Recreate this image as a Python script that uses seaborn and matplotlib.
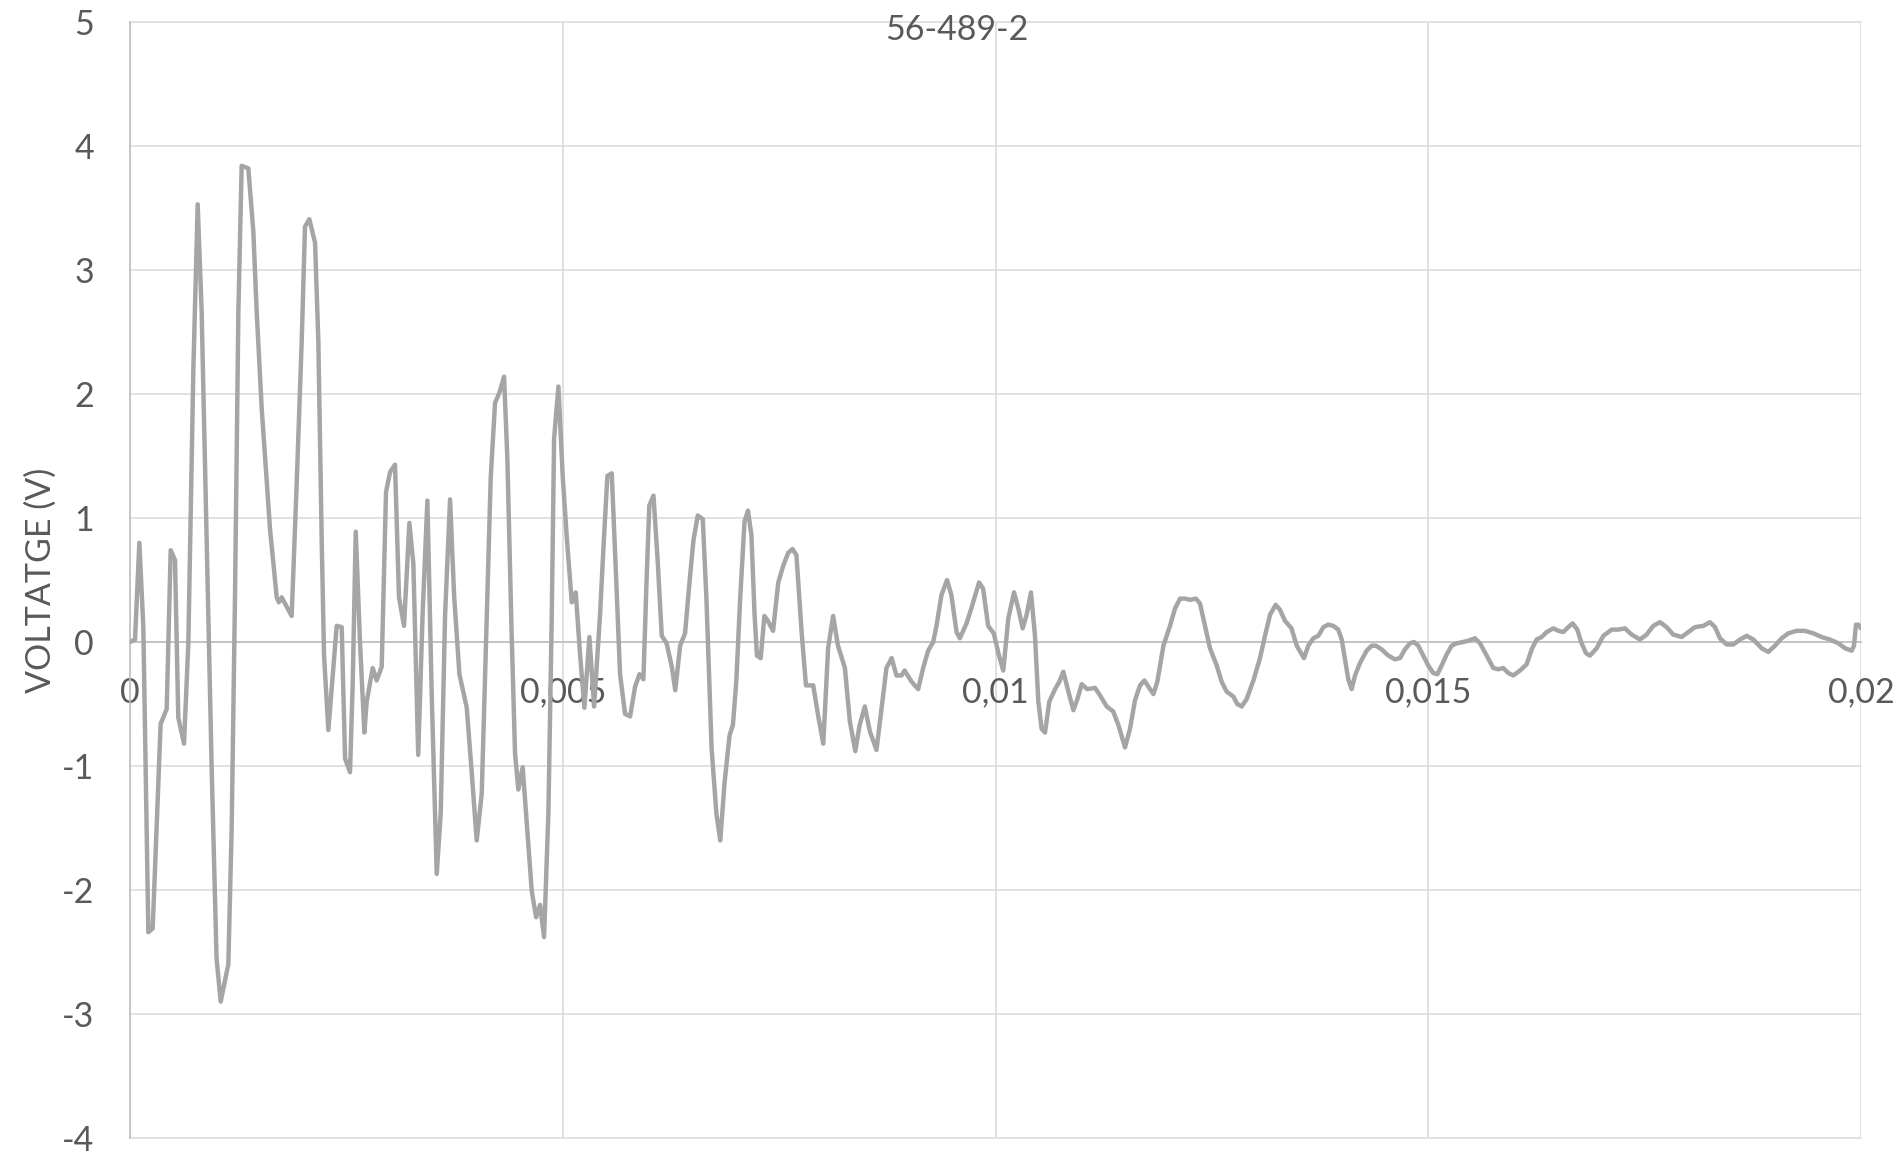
import matplotlib
matplotlib.use("Agg")
import matplotlib.pyplot as plt
import matplotlib.ticker as mticker
import seaborn as sns
import pandas as pd

# ---- data (time in milliseconds, voltage in volts) ----
time_ms = [
    0.0, 0.058, 0.108, 0.154, 0.212, 0.262, 0.354, 0.424, 0.47, 0.52,
    0.558, 0.624, 0.674, 0.732, 0.782, 0.828, 0.886, 0.944, 1.0, 1.048,
    1.136, 1.175, 1.213, 1.252, 1.29, 1.367, 1.425, 1.464, 1.522, 1.618,
    1.695, 1.72, 1.753, 1.868, 1.926, 1.984, 2.022, 2.072, 2.138, 2.176,
    2.215, 2.242, 2.292, 2.35, 2.388, 2.446, 2.485, 2.542, 2.573, 2.608,
    2.658, 2.708, 2.735, 2.804, 2.85, 2.908, 2.958, 3.005, 3.062, 3.108,
    3.166, 3.228, 3.274, 3.33,
    3.38, 3.436, 3.486, 3.544, 3.59, 3.64, 3.698, 3.745, 3.806, 3.891,
    3.949, 4.006, 4.064, 4.122, 4.168, 4.218, 4.268, 4.322, 4.36, 4.41,
    4.449, 4.487, 4.537, 4.592, 4.642, 4.692, 4.738, 4.784, 4.834, 4.873,
    4.90, 4.95, 5.0, 5.046, 5.104, 5.15, 5.2, 5.25, 5.308, 5.362,
    5.43, 5.477, 5.516, 5.566, 5.616, 5.662, 5.72, 5.778, 5.836, 5.886,
    5.932, 5.97, 6.0, 6.048, 6.094, 6.144, 6.2, 6.26, 6.3, 6.356,
    6.413, 6.463, 6.51, 6.56, 6.618,
    6.66, 6.72, 6.776, 6.82, 6.87, 6.928, 6.966, 7.005, 7.05, 7.10,
    7.14, 7.18, 7.217, 7.244, 7.287, 7.33, 7.37, 7.43, 7.49, 7.55,
    7.605, 7.655, 7.70, 7.76, 7.81, 7.894, 7.95, 8.01, 8.066, 8.124,
    8.18, 8.26, 8.317, 8.38, 8.43, 8.49, 8.548, 8.625, 8.683, 8.74,
    8.80, 8.856, 8.914, 8.95, 9.03, 9.107, 9.164, 9.222, 9.28, 9.318,
    9.376, 9.44, 9.49, 9.55, 9.588, 9.665, 9.72, 9.81, 9.857, 9.915,
    9.98, 10.04,
    10.09, 10.148, 10.214, 10.264, 10.314, 10.36, 10.41, 10.456, 10.495, 10.533,
    10.572, 10.622, 10.688, 10.738, 10.784, 10.842, 10.9, 10.946, 10.996, 11.06,
    11.15, 11.207, 11.285, 11.36, 11.42, 11.496, 11.554, 11.612, 11.67, 11.72,
    11.766, 11.824, 11.87, 11.94, 12.016, 12.074, 12.132, 12.19, 12.247, 12.317,
    12.363, 12.42, 12.478, 12.556, 12.613, 12.67, 12.748, 12.794, 12.845, 12.902,
    12.98, 13.056, 13.114, 13.172, 13.237, 13.287, 13.345, 13.42, 13.48,
    13.564, 13.614, 13.672, 13.73, 13.788, 13.845, 13.903, 13.96, 14.0, 14.038,
    14.076, 14.115, 14.154, 14.211, 14.288, 14.346, 14.396, 14.462, 14.54, 14.615,
    14.673, 14.731, 14.789, 14.835, 14.885, 14.943, 15.0, 15.058, 15.105, 15.155,
    15.213, 15.27, 15.33, 15.405, 15.463, 15.54, 15.598, 15.675, 15.752, 15.81,
    15.867, 15.925, 15.983, 16.06, 16.137, 16.195, 16.252, 16.31, 16.368, 16.445,
    16.503, 16.56, 16.618, 16.668, 16.722, 16.772, 16.822, 16.868,
    16.946, 17.023, 17.12, 17.196, 17.273, 17.35, 17.446, 17.523, 17.6, 17.677,
    17.754, 17.831, 17.928, 18.005, 18.082, 18.178, 18.255, 18.313, 18.37, 18.448,
    18.525, 18.602, 18.679, 18.756, 18.852, 18.929, 19.006, 19.083, 19.16, 19.256,
    19.353, 19.449, 19.545, 19.641, 19.738, 19.815, 19.892, 19.919, 19.942, 19.969,
    20.0,
]

voltage = [
    0.0, 0.02, 0.80, 0.12, -2.34, -2.31, -0.66, -0.54, 0.74, 0.66,
    -0.61, -0.82, -0.01, 2.2, 3.53, 2.66, 0.82, -1.03, -2.55, -2.90,
    -2.60, -1.49, 0.36, 2.66, 3.84, 3.82, 3.31, 2.66, 1.88, 0.91,
    0.36, 0.32, 0.36, 0.21, 1.28, 2.43, 3.35, 3.41, 3.22, 2.43,
    0.82, -0.11, -0.71, -0.20, 0.13, 0.12, -0.94, -1.05, -0.34, 0.89,
    -0.01, -0.73, -0.48, -0.21, -0.31, -0.20, 1.21, 1.37, 1.43, 0.36,
    0.13, 0.96, 0.63, -0.91,
    0.21, 1.14, -0.42, -1.87, -1.38, 0.21, 1.15, 0.37, -0.26, -0.53,
    -1.06, -1.60, -1.22, 0.21, 1.33, 1.93, 2.01, 2.14, 1.48, 0.05,
    -0.90, -1.19, -1.01, -1.54, -2.01, -2.22, -2.12, -2.38, -1.38, 0.21,
    1.64, 2.06, 1.33, 0.85, 0.32, 0.40, -0.10, -0.53, 0.04, -0.52,
    0.21, 0.85, 1.34, 1.36, 0.53, -0.26, -0.58, -0.60, -0.36, -0.26,
    -0.30, 0.53, 1.10, 1.18, 0.69, 0.05, -0.01, -0.20, -0.39, -0.03,
    0.07, 0.47, 0.82, 1.02, 0.99,
    0.35, -0.86, -1.39, -1.60, -1.13, -0.75, -0.67, -0.32, 0.35, 0.97,
    1.06, 0.86, 0.21, -0.11, -0.13, 0.21, 0.17, 0.09, 0.48, 0.62,
    0.72, 0.75, 0.70, 0.08, -0.35, -0.35, -0.59, -0.82, -0.05, 0.21,
    -0.03, -0.21, -0.64, -0.88, -0.67, -0.52, -0.72, -0.87, -0.54, -0.21,
    -0.13, -0.27, -0.27, -0.23, -0.32, -0.38, -0.21, -0.07, 0.0, 0.13,
    0.38, 0.50, 0.38, 0.08, 0.03, 0.15, 0.27, 0.48, 0.43, 0.13,
    0.07, -0.11,
    -0.23, 0.19, 0.40, 0.27, 0.11, 0.22, 0.40, 0.05, -0.48, -0.70,
    -0.73, -0.48, -0.38, -0.32, -0.24, -0.40, -0.55, -0.46, -0.34, -0.38,
    -0.37, -0.43, -0.52, -0.56, -0.67, -0.85, -0.70, -0.47, -0.35, -0.31,
    -0.36, -0.42, -0.32, -0.03, 0.13, 0.27, 0.35, 0.35, 0.34, 0.35,
    0.31, 0.13, -0.05, -0.19, -0.32, -0.40, -0.44, -0.50, -0.52, -0.46,
    -0.31, -0.13, 0.05, 0.22, 0.30, 0.26, 0.17, 0.11, -0.03,
    -0.13, -0.03, 0.03, 0.05, 0.12, 0.14, 0.13, 0.10, 0.02, -0.14,
    -0.30, -0.38, -0.27, -0.17, -0.07, -0.03, -0.03, -0.06, -0.11, -0.14,
    -0.13, -0.06, -0.01, 0.0, -0.03, -0.11, -0.19, -0.25, -0.26, -0.19,
    -0.10, -0.03, -0.01, 0.0, 0.01, 0.03, -0.01, -0.11, -0.21, -0.22,
    -0.21, -0.25, -0.27, -0.23, -0.18, -0.06, 0.02, 0.04, 0.08, 0.11,
    0.09, 0.08, 0.12, 0.15, 0.10, -0.01, -0.09, -0.11,
    -0.05, 0.05, 0.10, 0.10, 0.11, 0.06, 0.02, 0.06, 0.13, 0.16,
    0.12, 0.06, 0.04, 0.08, 0.12, 0.13, 0.16, 0.12, 0.03, -0.02,
    -0.02, 0.02, 0.05, 0.02, -0.05, -0.08, -0.03, 0.03, 0.07, 0.09,
    0.09, 0.07, 0.04, 0.02, -0.01, -0.05, -0.07, -0.03, 0.14, 0.14,
    0.11,
]

title = "56-489-2"
y_label = "VOLTATGE (V)"
x_ticks = [0, 0.005, 0.01, 0.015, 0.02]
y_ticks = [-4, -3, -2, -1, 0, 1, 2, 3, 4, 5]

df = pd.DataFrame({"t": [v / 1000.0 for v in time_ms], "v": voltage})

# ---- styling ----
sns.set_theme(style="white")
plt.rcParams["font.family"] = ["Lato", "DejaVu Sans"]

W, H = 1896, 1157
fig = plt.figure(figsize=(W / 100, H / 100), dpi=100)
ax = fig.add_axes([130 / W, 1 - 1138 / H, 1731 / W, 1116 / H])

grid_c = "#D9D9D9"
text_c = "#595959"
line_c = "#A5A5A5"

sns.lineplot(data=df, x="t", y="v", ax=ax, color=line_c, linewidth=3.2,
             estimator=None, sort=False, zorder=3,
             solid_joinstyle="round", solid_capstyle="round")

ax.set_xlim(0, 0.02)
ax.set_ylim(-4, 5)
ax.set_xticks(x_ticks)
ax.set_yticks(y_ticks)


def fmt_x(val, pos):
    if abs(val) < 1e-12:
        return "0"
    s = ("%.3f" % val).rstrip("0")
    return s.replace(".", ",")


ax.xaxis.set_major_formatter(mticker.FuncFormatter(fmt_x))
ax.yaxis.set_major_formatter(mticker.FuncFormatter(lambda v, p: "%d" % v))

ax.grid(True, color=grid_c, linewidth=1.1, zorder=0)
for gl in ax.get_xgridlines() + ax.get_ygridlines():
    gl.set_clip_on(False)

for side in ["top", "right"]:
    ax.spines[side].set_visible(False)
ax.spines["bottom"].set_position(("data", 0))
ax.spines["bottom"].set_color("#BFBFBF")
ax.spines["bottom"].set_linewidth(1.2)
ax.spines["left"].set_color("#BFBFBF")
ax.spines["left"].set_linewidth(1.2)

ax.tick_params(axis="x", length=0, pad=25, labelsize=24.5, labelcolor=text_c)
ax.tick_params(axis="y", length=0, pad=26, labelsize=24.5, labelcolor=text_c)

ax.set_xlabel("")
ax.set_ylabel(y_label, fontsize=24.5, color=text_c)
ax.yaxis.set_label_coords(-0.042, 0.5)

fig.text(957 / W, 1 - 40 / H, title, ha="center", va="baseline",
         fontsize=24.5, color=text_c)

fig.savefig("out.png", dpi=100, facecolor="white")
